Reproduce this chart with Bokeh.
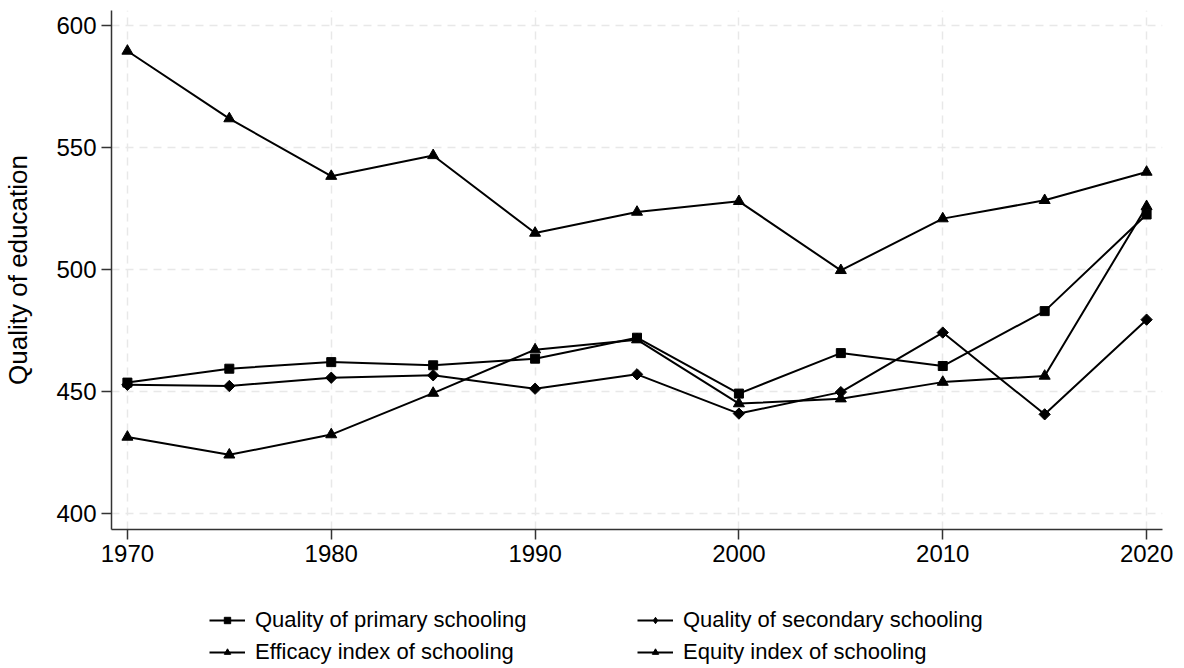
import math
from bokeh.plotting import figure
from bokeh.layouts import column
from bokeh.models import Legend, LegendItem, Range1d, FixedTicker
from bokeh.embed import file_html
from bokeh.resources import INLINE

years = [1970, 1975, 1980, 1985, 1990, 1995, 2000, 2005, 2010, 2015, 2020]
primary = [453.6, 459.3, 462.0, 460.7, 463.4, 472.0, 449.1, 465.7, 460.4, 482.9, 522.5]
secondary = [452.7, 452.2, 455.6, 456.6, 451.1, 457.0, 440.9, 449.7, 474.1, 440.6, 479.4]
efficacy = [589.5, 561.8, 538.2, 546.7, 514.9, 523.5, 527.9, 499.6, 520.8, 528.3, 539.9]
equity = [431.3, 424.0, 432.3, 449.3, 467.1, 471.2, 445.0, 447.0, 453.8, 456.3, 525.8]

x_ticks = [1970, 1980, 1990, 2000, 2010, 2020]
y_ticks = [400, 450, 500, 550, 600]
labels = ["Quality of primary schooling", "Quality of secondary schooling",
          "Efficacy index of schooling", "Equity index of schooling"]

FONT = "Liberation Sans"

p = figure(width=1184, height=588, output_backend="svg", toolbar_location=None,
           x_range=Range1d(1969.22, 2020.78), y_range=Range1d(393.4, 606.1),
           min_border_left=110, min_border_right=22, min_border_top=10,
           min_border_bottom=59)
p.outline_line_color = None
p.background_fill_color = "white"

for ax in (p.xaxis[0], p.yaxis[0]):
    ax.axis_line_color = "#333333"
    ax.axis_line_width = 1.5
    ax.major_tick_line_color = "#333333"
    ax.major_tick_line_width = 1.5
    ax.major_tick_out = 10
    ax.major_tick_in = 0
    ax.minor_tick_line_color = None
    ax.major_label_text_font = FONT
    ax.major_label_text_font_size = "24px"
    ax.major_label_text_color = "black"

p.xaxis.ticker = FixedTicker(ticks=x_ticks)
p.yaxis.ticker = FixedTicker(ticks=y_ticks)
p.xaxis.major_label_standoff = 5
p.yaxis.major_label_standoff = 5
p.yaxis.axis_label = "Quality of education"
p.yaxis.axis_label_text_font = FONT
p.yaxis.axis_label_text_font_size = "26px"
p.yaxis.axis_label_text_font_style = "normal"
p.yaxis.axis_label_text_color = "black"
p.yaxis.axis_label_standoff = 20

for g in (p.xgrid[0], p.ygrid[0]):
    g.grid_line_color = "#e8e8e8"
    g.grid_line_dash = "8 6"
    g.grid_line_width = 1.5
p.xgrid.ticker = FixedTicker(ticks=x_ticks)
p.ygrid.ticker = FixedTicker(ticks=y_ticks)

markers = [
    dict(marker="square", size=9, angle=0),
    dict(marker="square", size=8, angle=math.pi / 4),
    dict(marker="triangle", size=11, angle=0),
    dict(marker="triangle", size=11, angle=0),
]
legend_markers = [
    dict(marker="square", size=9),
    dict(marker="diamond", size=11),
    dict(marker="triangle", size=11),
    dict(marker="triangle", size=11),
]
values = [primary, secondary, efficacy, equity]

for vals, mk in zip(values, markers):
    p.line(years, vals, line_color="black", line_width=2)
    p.scatter(years, vals, fill_color="black", line_color="black", **mk)

# legend panel below the chart (its frame is aligned with the chart's frame)
lf = figure(width=1184, height=80, output_backend="svg", toolbar_location=None,
            x_range=Range1d(0, 1), y_range=Range1d(0, 1),
            x_axis_type=None, y_axis_type=None,
            min_border_left=0, min_border_right=0, min_border_top=0,
            min_border_bottom=0)
lf.outline_line_color = None
lf.xgrid.visible = False
lf.ygrid.visible = False

items = []
for vals, mk, lab in zip(values, legend_markers, labels):
    # same data, but outside this panel's ranges: only the legend glyph shows
    lr = lf.line(years, vals, line_color="black", line_width=2)
    sr = lf.scatter(years, vals, fill_color="black", line_color="black", **mk)
    items.append(LegendItem(label=lab, renderers=[lr, sr]))

def make_legend(its, x, y):
    return Legend(items=its, location=(x, y), orientation="vertical",
                  padding=0, margin=0, border_line_color=None,
                  background_fill_alpha=0, glyph_width=36, glyph_height=16,
                  label_height=28, spacing=4, label_standoff=10,
                  label_text_font=FONT, label_text_font_size="22px",
                  label_text_color="black")

lf.add_layout(make_legend([items[0], items[2]], 98, 2))
lf.add_layout(make_legend([items[1], items[3]], 526, 2))

layout = column(p, lf, spacing=0)
open("out.html", "w").write(file_html(layout, INLINE))
